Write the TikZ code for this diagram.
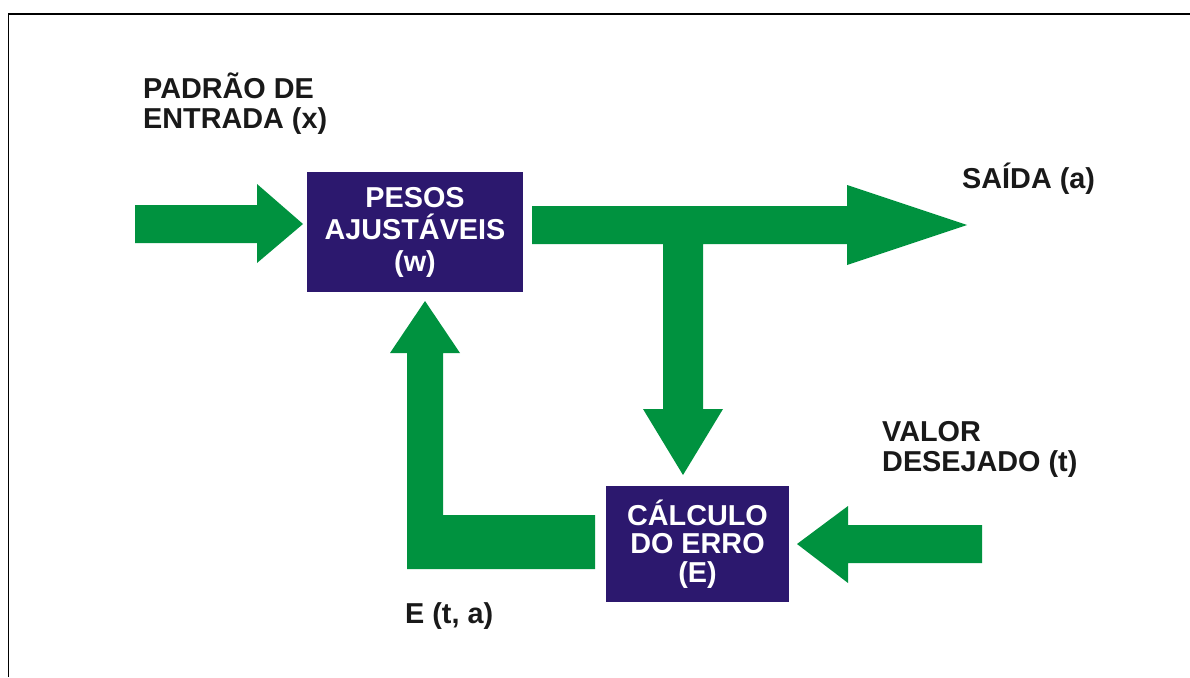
\documentclass[tikz,border=0pt]{standalone}
\usepackage{fontspec}
\setmainfont{Liberation Sans}
\definecolor{navy}{RGB}{44,24,110}
\definecolor{arrowgreen}{RGB}{0,146,63}
\begin{document}
\begin{tikzpicture}[x=1pt,y=-1pt,
  blockbox/.style={fill=navy, draw=none, inner sep=0pt, text=white, align=center},
  lbl/.style={inner sep=0pt, text=black!90, align=left},
  garrow/.style={fill=arrowgreen, draw=none}]
\useasboundingbox (0,0) rectangle (1190,677);
% frame
\draw[line width=1.5pt, black] (8.5,677) -- (8.5,14) -- (1190,14);

% boxes
\node[blockbox, minimum width=216pt, minimum height=120pt,
  font=\fontsize{28.8}{32}\selectfont\bfseries] (pesos) at (415,232)
  {PESOS\\AJUSTÁVEIS\\(w)};
\node[blockbox, minimum width=183pt, minimum height=116pt,
  font=\fontsize{28.8}{28.5}\selectfont\bfseries] (calc) at (697.5,544)
  {CÁLCULO\\DO ERRO\\(E)};

% input arrow
\fill[garrow] (135,205) -- (257,205) -- (257,184) -- (303,224) -- (257,263) -- (257,243) -- (135,243) -- cycle;
% output arrow with T branch
\fill[garrow] (532,206) -- (847,206) -- (847,185) -- (967,225) -- (847,265) -- (847,244)
  -- (703,244) -- (703,409) -- (723,409) -- (683,475) -- (643,409) -- (663,409)
  -- (663,244) -- (532,244) -- cycle;
% feedback L arrow
\fill[garrow] (595,515) -- (443,515) -- (443,353) -- (460,353) -- (425,301) -- (390,353)
  -- (407,353) -- (407,569) -- (595,569) -- cycle;
% desired value arrow
\fill[garrow] (982,525) -- (848,525) -- (848,506) -- (797,544) -- (848,583) -- (848,563) -- (982,563) -- cycle;

% labels
\node[lbl, anchor=north west, font=\fontsize{28.8}{30}\selectfont\bfseries] (entrada) at (143,73)
  {PADRÃO DE\\ENTRADA (x)};
\node[lbl, anchor=base west, font=\fontsize{28.8}{30}\selectfont\bfseries] (saida) at (962,188)
  {SAÍDA (a)};
\node[lbl, anchor=north west, font=\fontsize{28.8}{30.5}\selectfont\bfseries] (valor) at (882,421)
  {VALOR\\DESEJADO (t)};
\node[lbl, anchor=base west, font=\fontsize{28.8}{30}\selectfont\bfseries] (eta) at (405,623)
  {E (t, a)};
\end{tikzpicture}
\end{document}
